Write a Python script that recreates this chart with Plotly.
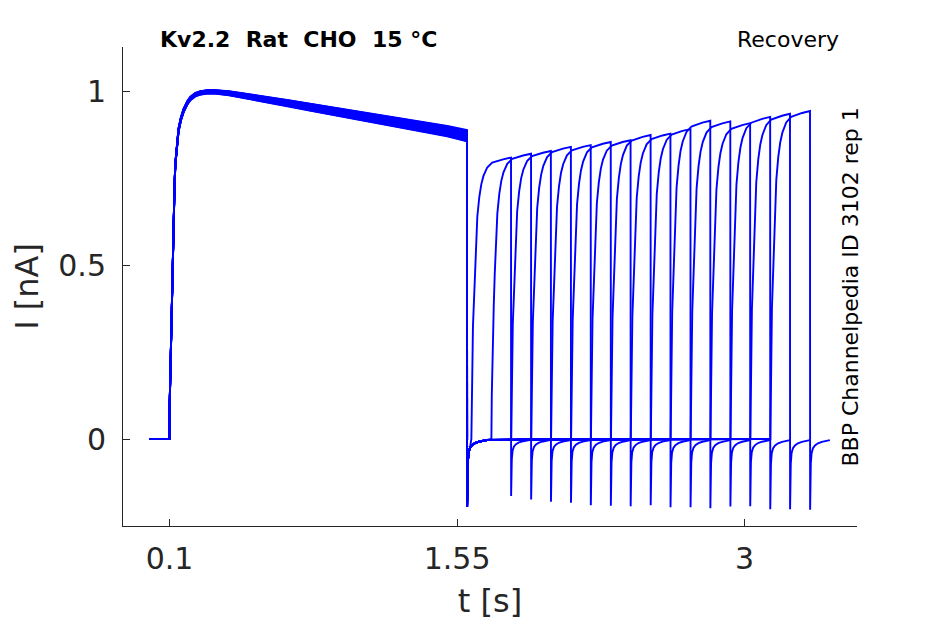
import numpy as np
import plotly.graph_objects as go

# ---------------- data ----------------
# main (conditioning) pulse, mean current profile
main_t = [0.0, 0.1, 0.1005, 0.104, 0.108, 0.112, 0.116, 0.120, 0.125, 0.129, 0.137, 0.145,
          0.157, 0.171, 0.19, 0.205, 0.23, 0.255, 0.29, 0.33, 0.4, 0.5, 0.6, 0.7, 0.8,
          0.9, 1.0, 1.1, 1.2, 1.3, 1.4, 1.5, 1.6]
main_i = [0.0, 0.0, 0.10, 0.20, 0.33, 0.457, 0.56, 0.649, 0.73, 0.79, 0.85, 0.888,
          0.92, 0.945, 0.967, 0.979, 0.99, 0.995, 0.998, 0.998, 0.994, 0.985, 0.975, 0.965, 0.955,
          0.945, 0.935, 0.925, 0.915, 0.905, 0.895, 0.885, 0.872]
# half-width of the sweep-to-sweep band along the main pulse
main_band = [0.0, 0.0, 0.004, 0.004, 0.004, 0.004, 0.004, 0.004, 0.004, 0.004, 0.004, 0.005,
             0.005, 0.005, 0.005, 0.005, 0.005, 0.005, 0.005, 0.005, 0.006, 0.007, 0.008, 0.009, 0.010,
             0.011, 0.012, 0.013, 0.013, 0.014, 0.015, 0.015, 0.016]
main_tail_min = -0.195

# per-sweep values (16 sweeps)
main_spread = [-1.0, 0.8, -0.4, 0.5, -0.75, 0.2, 1.0, -0.15, 0.4, -0.9, 0.65, -0.55, 0.05, 0.9, -0.3, 0.3]
test_start = [1.622, 1.723, 1.823, 1.924, 2.024, 2.125, 2.225, 2.326, 2.426, 2.527,
              2.627, 2.728, 2.828, 2.929, 3.029, 3.130]
test_peak = [0.809, 0.820, 0.828, 0.840, 0.845, 0.854, 0.859, 0.874, 0.878, 0.891,
             0.915, 0.913, 0.908, 0.926, 0.935, 0.943]
tail_min = [-0.164, -0.174, -0.180, -0.183, -0.190, -0.192, -0.193, -0.190, -0.196, -0.196,
            -0.199, -0.194, -0.193, -0.202, -0.202, -0.203]

# test-pulse activation shape (time after test start, fraction of peak)
rise_dt = [0.0, 0.002, 0.005, 0.008, 0.012, 0.017, 0.023, 0.03, 0.04, 0.05, 0.061, 0.08,
           0.105, 0.13, 0.16, 0.2]
rise_frac = [0.0, 0.15, 0.30, 0.40, 0.47, 0.58, 0.68, 0.79, 0.86, 0.905, 0.935, 0.965,
             0.982, 0.988, 0.994, 1.0]
# tail shape (time after pulse end, fraction of tail minimum)
tail_dt = [0.0005, 0.002, 0.004, 0.008, 0.015, 0.025, 0.04, 0.06, 0.08, 0.1]
tail_frac = [1.0, 0.6, 0.35, 0.2, 0.13, 0.09, 0.06, 0.04, 0.025, 0.015]

x_ticks = [0.1, 1.55, 3]
x_tick_text = ["0.1", "1.55", "3"]
y_ticks = [0, 0.5, 1]
y_tick_text = ["0", "0.5", "1"]

title_text = "Kv2.2  Rat  CHO  15 °C"
protocol_text = "Recovery"
source_text = "BBP Channelpedia ID 3102 rep 1"

# ---------------- figure ----------------
# the page body adds an 8 px margin, so the figure is drawn 8 px smaller
OFF = 8
W, H = 945 - OFF, 624 - OFF
L, R, T, B = 123 - OFF, 857 - OFF, 47 - OFF, 526 - OFF
def px_x(p):
    return (p - OFF - L) / (R - L)
def px_y(p):
    return (B - (p - OFF)) / (B - T)

TXT = "#262626"
FONT = "DejaVu Sans"
BLUE = "rgb(0,0,255)"

fig = go.Figure()
mt = np.array(main_t)
mi = np.array(main_i)
mb = np.array(main_band)
rdt = np.array(rise_dt)
rfr = np.array(rise_frac)
tdt = np.array(tail_dt)
tfr = np.array(tail_frac)
main_end = main_t[-1]

for k in range(len(test_start)):
    xs, ys = [], []
    # conditioning pulse
    xs += list(mt)
    ys += list(mi + main_spread[k] * mb)
    # tail after conditioning pulse
    for d, f in zip(tdt, tfr):
        if main_end + d < test_start[k]:
            xs.append(main_end + d)
            ys.append(main_tail_min * f)
    xs.append(test_start[k]); ys.append(0.0)
    # test pulse
    xs += list(test_start[k] + rdt)
    ys += list(test_peak[k] * rfr)
    t_end = test_start[k] + rise_dt[-1]
    xs += list(t_end + tdt)
    ys += list(tail_min[k] * tfr)
    fig.add_trace(go.Scatter(x=xs, y=ys, mode="lines",
                             line=dict(color=BLUE, width=1.9),
                             showlegend=False, hoverinfo="skip"))

axis_common = dict(showgrid=False, zeroline=False, showline=True, linecolor=TXT,
                   linewidth=1, ticks="inside", ticklen=7, tickcolor=TXT, tickwidth=1,
                   tickfont=dict(family=FONT, size=30, color=TXT))

fig.update_layout(
    width=W, height=H,
    margin=dict(l=L, r=W - R, t=T, b=H - B, autoexpand=False),
    paper_bgcolor="white", plot_bgcolor="white",
    font=dict(family=FONT, color=TXT),
    xaxis=dict(range=[-0.135, 3.567], tickvals=x_ticks, ticktext=x_tick_text,
               ticklabelstandoff=6,
               title=dict(text="t [s]", font=dict(family=FONT, size=32, color=TXT), standoff=14),
               **axis_common),
    yaxis=dict(range=[-0.25, 1.127], tickvals=y_ticks, ticktext=y_tick_text,
               ticklabelstandoff=10,
               title=dict(text="I [nA]", font=dict(family=FONT, size=32, color=TXT), standoff=18),
               **axis_common),
    annotations=[
        dict(text="<b>" + title_text + "</b>", xref="paper", yref="paper",
             x=px_x(158), y=px_y(40), xanchor="left", yanchor="middle", showarrow=False,
             font=dict(family=FONT, size=22, color="black")),
        dict(text=protocol_text, xref="paper", yref="paper",
             x=px_x(787.5), y=px_y(40), xanchor="center", yanchor="middle", showarrow=False,
             font=dict(family=FONT, size=22, color="black")),
        dict(text=source_text, xref="paper", yref="paper", textangle=-90,
             x=px_x(850), y=px_y(287.5), xanchor="center", yanchor="middle", showarrow=False,
             font=dict(family=FONT, size=22, color="black")),
    ],
)

fig.write_html("out.html")
